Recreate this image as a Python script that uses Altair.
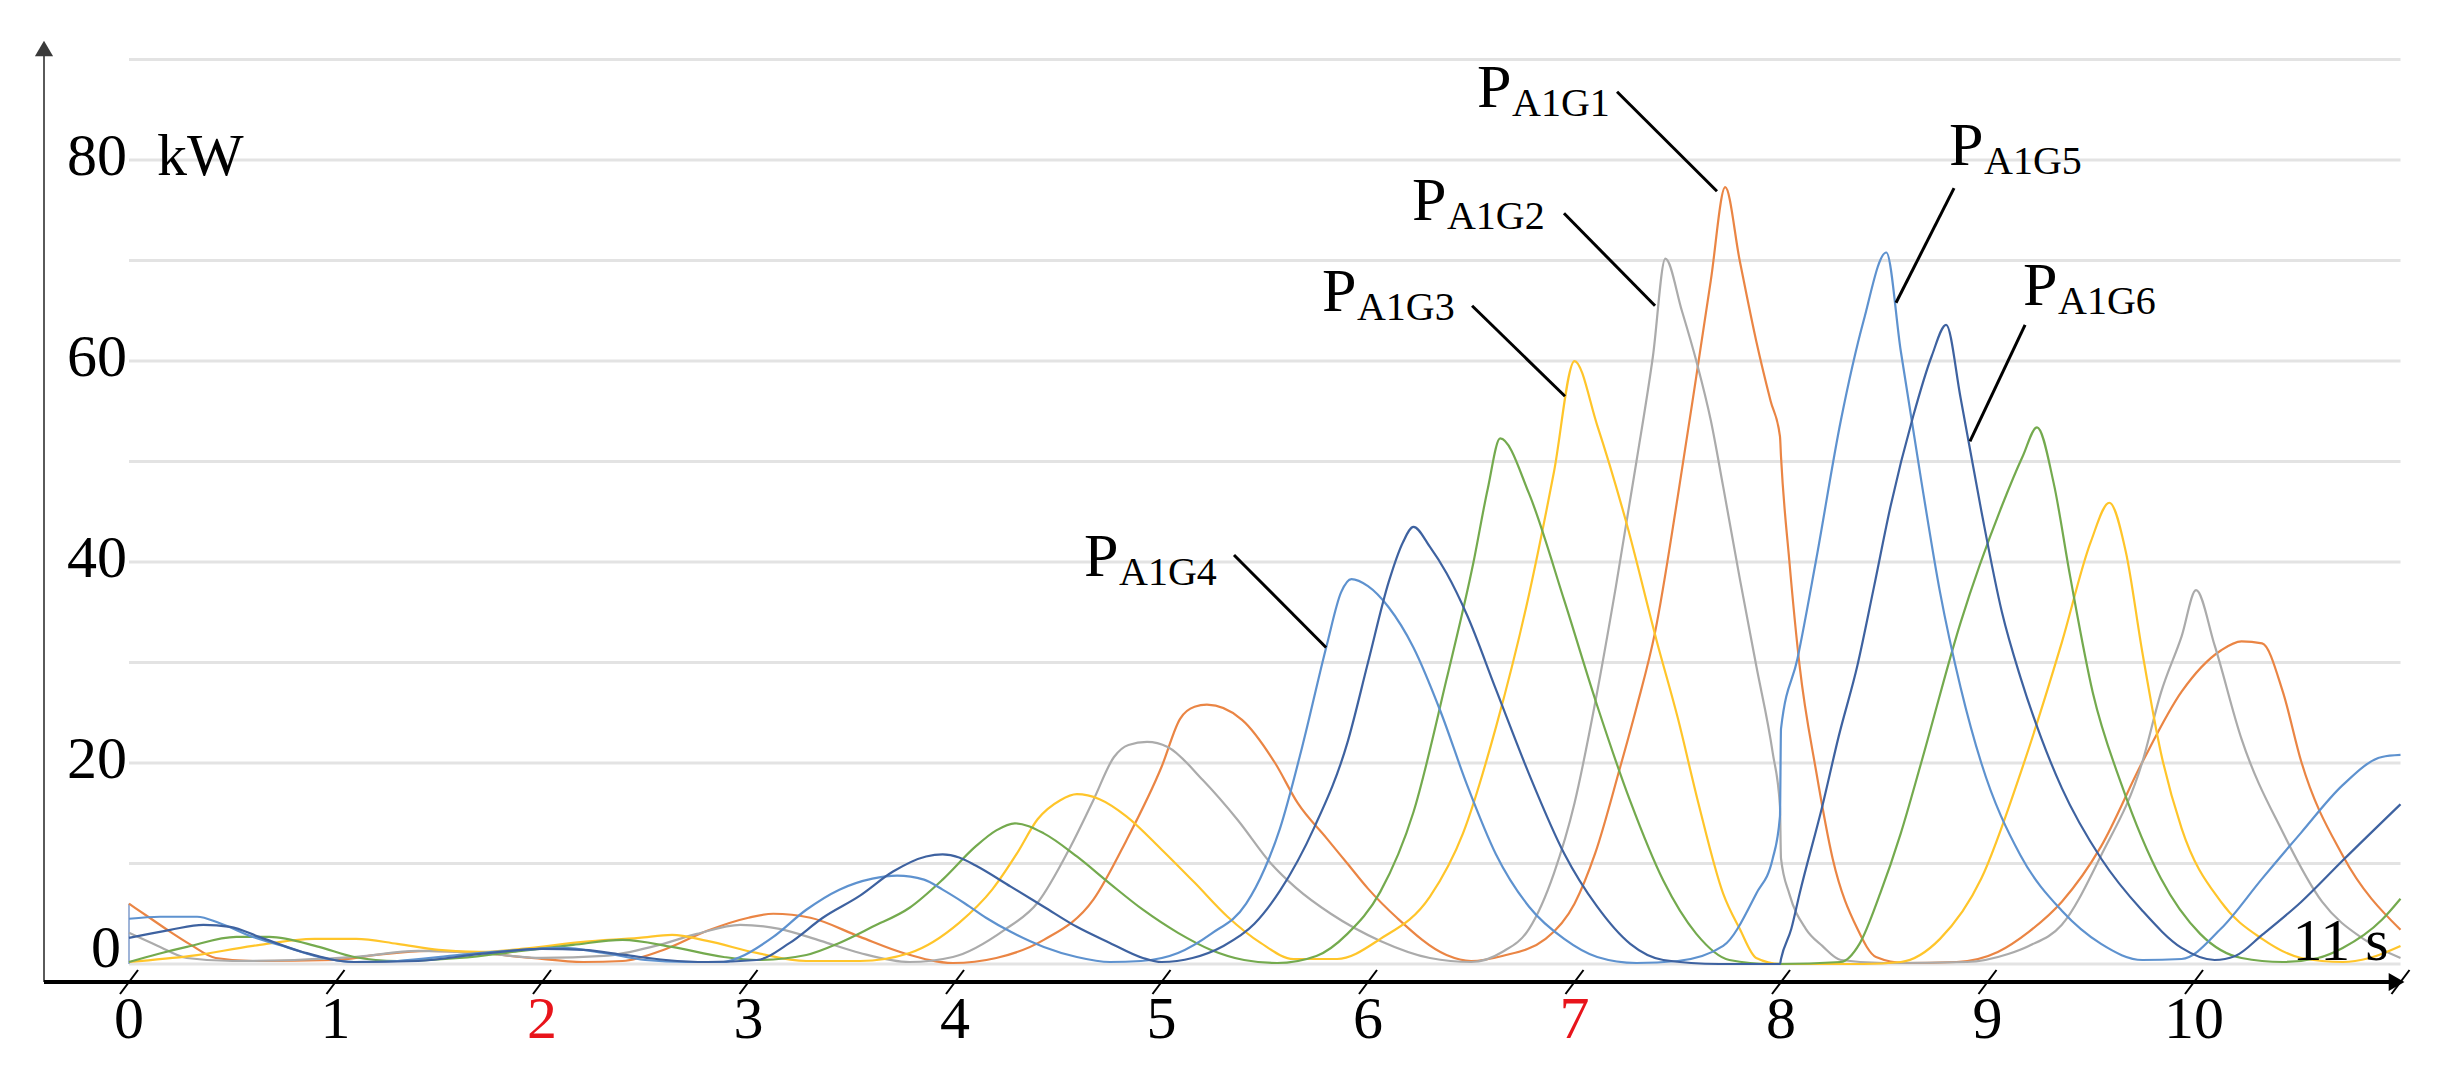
import altair as alt
import pandas as pd

# ---------------- data ----------------
SERIES = ["P_A1G1", "P_A1G2", "P_A1G3", "P_A1G4", "P_A1G5", "P_A1G6"]
COLORS = ["#EA8544", "#ABABAB", "#FFC52A", "#74AA4E", "#5E92CF", "#3E62A0"]

# orange
T_G1 = [0, 0.1, 0.2, 0.3, 0.42, 0.6, 1.0, 1.2, 1.45, 1.7, 1.95, 2.2, 2.39, 2.6, 2.8, 3.0, 3.12, 3.3, 3.54, 3.75,
        3.99, 4.2, 4.43, 4.67, 4.83, 5.0, 5.09, 5.16, 5.22, 5.39, 5.55, 5.66, 5.8, 5.9, 6.0, 6.14, 6.38, 6.5,
        6.65, 6.86, 7.0, 7.1, 7.22, 7.3, 7.39, 7.5, 7.59, 7.66, 7.73, 7.8, 7.88, 7.95, 7.995, 8.0, 8.04, 8.09,
        8.17, 8.25, 8.37, 8.46, 8.6, 8.85, 9.05, 9.2, 9.36, 9.55, 9.75, 9.94, 10.13, 10.23, 10.33, 10.43, 10.52,
        10.72, 11.0]
P_G1 = [6.0, 4.6, 3.2, 1.9, 0.6, 0.3, 0.4, 0.9, 1.3, 1.1, 0.6, 0.2, 0.3, 1.5, 3.3, 4.6, 5.0, 4.6, 2.7, 1.1,
        0.1, 0.6, 2.4, 6.4, 12.3, 19.6, 24.4, 25.6, 25.8, 24.3, 20.0, 16.0, 12.5, 10.0, 7.5, 4.6, 0.9, 0.3,
        0.8, 2.5, 6.0, 11.0, 19.5, 25.5, 33.0, 46.5, 58.5, 68.0, 77.3, 70.0, 62.0, 56.0, 52.5, 50.5, 40.2, 29.7,
        19.2, 10.5, 3.5, 0.7, 0.1, 0.2, 1.2, 3.2, 6.2, 11.7, 20.1, 27.1, 31.2, 32.1, 31.9, 27.1, 20.1,
        10.8, 3.4]

# gray
T_G2 = [0, 0.14, 0.28, 0.5, 0.8, 1.1, 1.4, 1.7, 2.0, 2.3, 2.55, 2.75, 2.96, 3.15, 3.35, 3.54, 3.78, 3.99, 4.24,
        4.4, 4.56, 4.67, 4.77, 4.84, 4.93, 5.03, 5.2, 5.37, 5.53, 5.65, 5.82, 6.06, 6.3, 6.5, 6.65, 6.78, 6.9,
        7.0, 7.1, 7.2, 7.3, 7.38, 7.44, 7.52, 7.59, 7.66, 7.72, 7.8, 7.88, 7.96, 7.995, 8.0, 8.04, 8.12, 8.2,
        8.29, 8.5, 8.9, 9.1, 9.2, 9.36, 9.55, 9.75, 9.84, 9.94, 10.01, 10.1, 10.23, 10.43, 10.62, 10.82, 11.0]
P_G2 = [3.1, 1.8, 0.6, 0.3, 0.4, 0.7, 1.3, 1.1, 0.6, 0.8, 1.8, 3.0, 3.9, 3.5, 2.3, 1.1, 0.2, 0.7, 3.4,
        6.1, 11.7, 16.3, 20.6, 21.8, 22.1, 21.6, 18.3, 14.3, 10.0, 7.6, 5.0, 2.3, 0.6, 0.2, 1.2, 3.5, 9.0,
        16.0, 26.0, 37.5, 50.0, 60.5, 70.2, 65.0, 60.0, 54.1, 47.5, 38.4, 29.7, 21.0, 15.7, 10.5, 7.0, 3.5, 1.8,
        0.4, 0.1, 0.2, 1.0, 1.8, 3.9, 10.8, 20.1, 27.0, 32.6, 37.2, 31.7, 22.4, 13.1, 6.2, 2.5, 0.6]

# yellow
T_G3 = [0, 0.3, 0.6, 0.9, 1.1, 1.3, 1.5, 1.7, 1.9, 2.2, 2.47, 2.63, 2.8, 3.04, 3.28, 3.54, 3.78, 4.02, 4.18,
        4.3, 4.4, 4.51, 4.59, 4.7, 4.83, 5.0, 5.16, 5.32, 5.48, 5.64, 5.85, 6.06, 6.3, 6.46, 6.62, 6.78, 6.9,
        7.0, 7.11, 7.25, 7.4, 7.5, 7.6, 7.72, 7.8, 7.88, 8.0, 8.4, 8.58, 8.77, 8.97, 9.16, 9.36, 9.5, 9.59,
        9.67, 9.75, 9.84, 9.94, 10.13, 10.33, 10.52, 10.72, 10.85, 11.0]
P_G3 = [0.2, 0.8, 1.8, 2.5, 2.5, 2.0, 1.4, 1.2, 1.5, 2.2, 2.6, 2.9, 2.3, 1.1, 0.3, 0.3, 1.1, 4.1, 7.4,
        11.0, 14.4, 16.3, 16.9, 16.4, 14.7, 11.4, 8.1, 4.7, 2.1, 0.5, 0.5, 2.5, 6.7, 13.0, 23.6, 36.8, 48.9,
        60.0, 53.6, 44.0, 32.0, 24.5, 16.0, 7.0, 3.5, 0.6, 0.0, 0.0, 0.2, 2.5, 8.5, 19.0, 32.0, 42.0, 45.9,
        41.0, 31.0, 21.0, 13.5, 6.2, 2.5, 0.6, 0.2, 0.6, 1.8]

# green
T_G4 = [0, 0.14, 0.28, 0.52, 0.68, 0.92, 1.09, 1.3, 1.6, 1.9, 2.15, 2.39, 2.63, 2.88, 3.04, 3.28, 3.44, 3.6,
        3.78, 3.94, 4.1, 4.2, 4.29, 4.43, 4.59, 4.75, 4.91, 5.08, 5.24, 5.4, 5.56, 5.75, 5.9, 6.06, 6.22, 6.38,
        6.51, 6.58, 6.64, 6.78, 6.95, 7.11, 7.27, 7.43, 7.59, 7.75, 7.95, 8.29, 8.38, 8.48, 8.58, 8.68, 8.87,
        9.07, 9.17, 9.24, 9.32, 9.4, 9.51, 9.65, 9.84, 10.03, 10.23, 10.43, 10.6, 10.72, 10.91, 11.0]
P_G4 = [0.2, 1.0, 1.7, 2.7, 2.7, 1.7, 0.7, 0.3, 0.6, 1.3, 1.9, 2.4, 1.7, 0.7, 0.4, 0.9, 2.1, 3.7,
        5.6, 8.4, 11.7, 13.3, 14.0, 13.0, 10.7, 8.0, 5.4, 3.1, 1.4, 0.4, 0.1, 0.8, 3.0, 7.2, 15.1, 28.3,
        39.9, 47.3, 52.3, 46.8, 36.2, 25.7, 16.2, 8.3, 3.0, 0.4, 0.0, 0.2, 2.0, 7.0, 13.0, 20.1, 34.0,
        45.6, 50.5, 53.4, 47.9, 38.6, 27.0, 17.8, 8.5, 3.0, 0.6, 0.2, 0.6, 1.6, 4.4, 6.5]

# light blue
T_G5 = [0, 0.15, 0.33, 0.44, 0.6, 0.76, 0.92, 1.09, 1.3, 1.6, 1.9, 2.1, 2.3, 2.5, 2.7, 2.88, 2.96, 3.12, 3.28,
        3.44, 3.6, 3.72, 3.85, 3.94, 4.05, 4.15, 4.27, 4.43, 4.59, 4.75, 4.9, 5.08, 5.24, 5.41, 5.5, 5.574, 5.68,
        5.8, 5.87, 5.92, 6.0, 6.1, 6.22, 6.35, 6.48, 6.62, 6.78, 6.95, 7.11, 7.3, 7.5, 7.72, 7.88, 7.96, 7.995,
        8.0, 8.08, 8.17, 8.29, 8.4, 8.51, 8.58, 8.68, 8.77, 8.87, 8.97, 9.16, 9.36, 9.55, 9.75, 9.94, 10.13,
        10.33, 10.52, 10.72, 10.91, 11.0]
P_G5 = [4.5, 4.7, 4.7, 4.05, 2.7, 1.7, 0.7, 0.2, 0.3, 0.9, 1.4, 1.6, 1.1, 0.4, 0.2, 0.2, 0.7, 2.7, 5.4,
        7.4, 8.5, 8.8, 8.4, 7.4, 6.0, 4.6, 3.2, 1.7, 0.7, 0.2, 0.3, 1.1, 3.0, 6.0, 9.5, 13.5, 21.5,
        31.7, 37.0, 38.3, 37.6, 35.5, 31.5, 25.2, 17.8, 10.9, 5.7, 2.5, 0.7, 0.1, 0.3, 1.8, 7.0, 10.5, 14.7,
        23.4, 30.4, 40.2, 54.1, 64.0, 70.8, 61.0, 48.0, 37.0, 27.5, 20.0, 10.8, 5.3, 2.0, 0.4, 0.5, 3.5,
        8.5, 13.1, 17.8, 20.6, 20.8]

# dark blue
T_G6 = [0, 0.2, 0.36, 0.49, 0.63, 0.84, 1.09, 1.4, 1.7, 2.0, 2.2, 2.4, 2.6, 2.8, 3.04, 3.2, 3.36, 3.54, 3.7,
        3.86, 3.94, 4.02, 4.1, 4.27, 4.43, 4.59, 4.75, 4.91, 5.0, 5.15, 5.3, 5.45, 5.574, 5.74, 5.9, 6.0, 6.1,
        6.17, 6.22, 6.3, 6.38, 6.48, 6.62, 6.78, 6.95, 7.11, 7.27, 7.43, 7.7, 7.995, 8.0, 8.05, 8.09, 8.2, 8.28,
        8.37, 8.45, 8.53, 8.64, 8.73, 8.8, 8.87, 8.97, 9.07, 9.16, 9.26, 9.36, 9.55, 9.75, 9.94, 10.1, 10.2,
        10.33, 10.52, 10.72, 11.0]
P_G6 = [2.6, 3.4, 3.9, 3.7, 2.7, 1.2, 0.2, 0.3, 1.0, 1.5, 1.4, 0.9, 0.4, 0.2, 0.4, 2.1, 4.6, 6.8, 9.2,
        10.7, 10.9, 10.6, 9.8, 7.7, 5.7, 3.7, 2.1, 0.6, 0.2, 0.6, 1.8, 4.0, 7.3, 13.6, 22.0, 30.0, 38.0,
        42.0, 43.5, 41.5, 38.9, 34.7, 27.3, 18.9, 11.0, 5.7, 2.0, 0.4, 0.0, 0.0, 0.5, 3.5, 7.0, 15.7, 22.7,
        29.7, 37.5, 45.5, 54.5, 60.5, 63.6, 56.3, 45.1, 35.0, 28.5, 22.5, 17.5, 10.5, 5.3, 1.6, 0.4, 0.8,
        2.9, 6.2, 10.3, 15.9]

X_TICKS = [0, 1, 2, 3, 4, 5, 6, 7, 8, 9, 10]
X_TICK_LABELS = ["0", "1", "2", "3", "4", "5", "6", "7", "8", "9", "10"]
X_TICK_COLORS = ["#000000", "#000000", "#E8141B", "#000000", "#000000", "#000000",
                 "#000000", "#E8141B", "#000000", "#000000", "#000000"]
X_SLASHES = [0, 1, 2, 3, 4, 5, 6, 7, 8, 9, 10, 11]
Y_TICKS = [20, 40, 60, 80]
Y_TICK_LABELS = ["20", "40", "60", "80"]
GRID_VALUES = [0, 10, 20, 30, 40, 50, 60, 70, 80, 90]

ANN_SUB = ["A1G1", "A1G2", "A1G3", "A1G4", "A1G5", "A1G6"]
ANN_T = [6.528, 6.213, 5.777, 4.625, 8.814, 9.172]
ANN_P = [85.3, 74.0, 65.0, 38.6, 79.5, 65.6]
ANN_LT1 = [7.206, 6.949, 6.504, 5.351, 8.838, 9.182]
ANN_LP1 = [86.8, 74.7, 65.5, 40.7, 77.2, 63.6]
ANN_LT2 = [7.690, 7.390, 6.954, 5.797, 8.557, 8.915]
ANN_LP2 = [76.9, 65.5, 56.5, 31.5, 65.8, 52.0]

# ---------------- layout constants ----------------
W, H = 2366, 960
X_DOM = [-0.4116, 11.046]
Y_DOM = [-2.587, 92.94]
PX_S = W / (X_DOM[1] - X_DOM[0])
PX_KW = H / (Y_DOM[1] - Y_DOM[0])
AXIS_P = -1.79          # level of the horizontal axis line
X_END = 10.981          # end of the horizontal axis (arrow centre)
Y_TOP = 91.1            # top of vertical axis (arrow centre)
XLAB_P = -7.36          # baseline of x tick labels
FONT = "Liberation Serif"

xs = alt.Scale(domain=X_DOM, nice=False, zero=False)
ys = alt.Scale(domain=Y_DOM, nice=False, zero=False)


def X(f):
    return alt.X(f, type="quantitative", scale=xs, axis=None)


def Y(f):
    return alt.Y(f, type="quantitative", scale=ys, axis=None)


# ---------------- tables ----------------
rows = []
for name, ts, ps in zip(SERIES, [T_G1, T_G2, T_G3, T_G4, T_G5, T_G6],
                        [P_G1, P_G2, P_G3, P_G4, P_G5, P_G6]):
    n = min(len(ts), len(ps))
    for t, p in zip(ts[:n], ps[:n]):
        rows.append({"s": name, "t": t, "p": p})
df_lines = pd.DataFrame(rows)

df_grid = pd.DataFrame({"g": GRID_VALUES, "a": [0] * len(GRID_VALUES), "b": [11] * len(GRID_VALUES)})

grid = alt.Chart(df_grid).mark_rule(color="#E3E3E3", strokeWidth=3).encode(
    x=X("a"), x2="b", y=Y("g"))

start_rule = alt.Chart(pd.DataFrame({"t": [0], "a": [0], "b": [P_G1[0]]})).mark_rule(
    color="#9FB4D8", strokeWidth=2).encode(x=X("t"), y=Y("a"), y2="b")

lines = alt.Chart(df_lines).mark_line(interpolate="monotone", strokeWidth=2.2).encode(
    x=X("t"), y=Y("p"),
    color=alt.Color("s:N", scale=alt.Scale(domain=SERIES, range=COLORS), legend=None))

yaxis = alt.Chart(pd.DataFrame({"t": [X_DOM[0]], "a": [AXIS_P], "b": [Y_TOP]})).mark_rule(
    color="#5A5A5A", strokeWidth=2).encode(x=X("t"), y=Y("a"), y2="b")

xaxis = alt.Chart(pd.DataFrame({"a": [X_DOM[0]], "b": [X_END], "p": [AXIS_P]})).mark_rule(
    color="#000000", strokeWidth=4).encode(x=X("a"), x2="b", y=Y("p"))

arrow_up = alt.Chart(pd.DataFrame({"t": [X_DOM[0]], "p": [Y_TOP]})).mark_point(
    shape="triangle-up", filled=True, size=330, color="#3A3A3A", opacity=1).encode(x=X("t"), y=Y("p"))

arrow_right = alt.Chart(pd.DataFrame({"t": [X_END], "p": [AXIS_P]})).mark_point(
    shape="triangle-right", filled=True, size=330, color="#000000", opacity=1).encode(x=X("t"), y=Y("p"))

df_sl = pd.DataFrame({"t1": [t - 9 / PX_S for t in X_SLASHES],
                      "t2": [t + 9 / PX_S for t in X_SLASHES],
                      "p1": [AXIS_P - 12 / PX_KW] * len(X_SLASHES),
                      "p2": [AXIS_P + 12 / PX_KW] * len(X_SLASHES)})
slashes = alt.Chart(df_sl).mark_rule(color="#000000", strokeWidth=2).encode(
    x=X("t1"), x2="t2", y=Y("p1"), y2="p2")

df_xl = pd.DataFrame({"t": X_TICKS, "lab": X_TICK_LABELS, "c": X_TICK_COLORS,
                      "p": [XLAB_P] * len(X_TICKS)})
xlabels = alt.Chart(df_xl).mark_text(font=FONT, fontSize=60, align="center", baseline="alphabetic").encode(
    x=X("t"), y=Y("p"), text="lab:N", color=alt.Color("c:N", scale=None))

df_yl = pd.DataFrame({"t": [0] * len(Y_TICKS), "p": Y_TICKS, "lab": Y_TICK_LABELS})
ylabels = alt.Chart(df_yl).mark_text(font=FONT, fontSize=60, align="right", baseline="middle",
                                     dx=-2, dy=-3, color="#000000").encode(x=X("t"), y=Y("p"), text="lab:N")

zero_label = alt.Chart(pd.DataFrame({"t": [0], "p": [0], "lab": ["0"]})).mark_text(
    font=FONT, fontSize=60, align="right", baseline="middle", dx=-8, dy=-15, color="#000000").encode(
    x=X("t"), y=Y("p"), text="lab:N")

kw_label = alt.Chart(pd.DataFrame({"t": [0], "p": [80], "lab": ["kW"]})).mark_text(
    font=FONT, fontSize=60, align="left", baseline="middle", dx=28, dy=-3, color="#000000").encode(
    x=X("t"), y=Y("p"), text="lab:N")

s_label = alt.Chart(pd.DataFrame({"t": [11], "p": [0], "lab": ["11 s"]})).mark_text(
    font=FONT, fontSize=60, align="right", baseline="alphabetic", dx=-12, dy=-4, color="#000000").encode(
    x=X("t"), y=Y("p"), text="lab:N")

df_ann = pd.DataFrame({"t": ANN_T, "p": ANN_P, "sub": ANN_SUB, "P": ["P"] * len(ANN_SUB),
                       "t1": ANN_LT1, "p1": ANN_LP1, "t2": ANN_LT2, "p2": ANN_LP2})
ann_lines = alt.Chart(df_ann).mark_rule(color="#000000", strokeWidth=3).encode(
    x=X("t1"), x2="t2", y=Y("p1"), y2="p2")
ann_p = alt.Chart(df_ann).mark_text(font=FONT, fontSize=62, align="left", baseline="alphabetic",
                                    color="#000000").encode(x=X("t"), y=Y("p"), text="P:N")
ann_sub = alt.Chart(df_ann).mark_text(font=FONT, fontSize=40, align="left", baseline="alphabetic",
                                      dx=35, dy=9, color="#000000").encode(x=X("t"), y=Y("p"), text="sub:N")

chart = alt.layer(
    grid, start_rule, lines, yaxis, xaxis, arrow_up, arrow_right, slashes,
    xlabels, ylabels, zero_label, kw_label, s_label, ann_lines, ann_p, ann_sub
).properties(
    width=W, height=H,
    autosize=alt.AutoSizeParams(type="none"),
    padding={"left": 36, "top": 22, "right": 20, "bottom": 80},
    background="#FFFFFF",
).configure_view(stroke=None)

chart.save("out.html", embed_options={"renderer": "svg", "actions": False})
